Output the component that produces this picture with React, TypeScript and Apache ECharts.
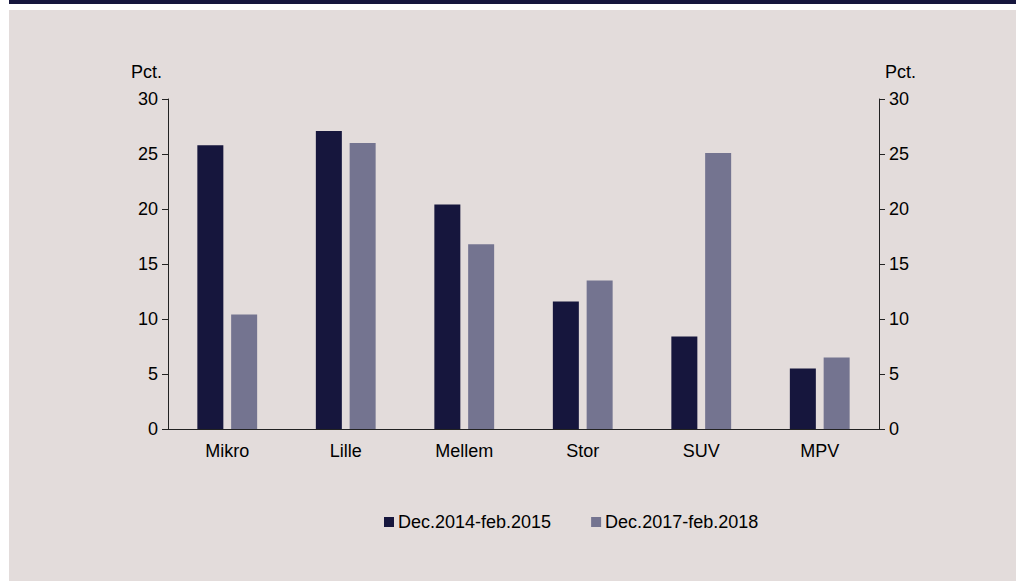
import React, { useEffect, useRef } from "react";
import * as echarts from "echarts";

const categories = ["Mikro", "Lille", "Mellem", "Stor", "SUV", "MPV"];
const series2015 = [25.8, 27.1, 20.4, 11.6, 8.4, 5.5];
const series2018 = [10.4, 26.0, 16.8, 13.5, 25.1, 6.5];
const seriesNames = ["Dec.2014-feb.2015", "Dec.2017-feb.2018"];
const yTicks = { min: 0, max: 30, interval: 5 };

const FONT = "'Liberation Sans', Arial, sans-serif";
const FS = 18;
const DARK = "#16163d";
const LIGHT = "#747490";
const BG = "#e3dcdb";

export default function App() {
  const ref = useRef<HTMLDivElement>(null);
  useEffect(() => {
    if (!ref.current) return;
    const chart = echarts.init(ref.current, null, { renderer: "svg" });
    const axisLabel = { color: "#000", fontSize: FS, fontFamily: FONT };
    const yAxisCommon = {
      type: "value",
      min: yTicks.min,
      max: yTicks.max,
      interval: yTicks.interval,
      splitLine: { show: false },
      axisLine: { show: true, lineStyle: { color: "#222", width: 1 } },
      axisTick: { show: true, length: 6, lineStyle: { color: "#222" } },
    };
    chart.setOption({
      animation: false,
      backgroundColor: "#ffffff",
      textStyle: { fontFamily: FONT },
      graphic: [
        { type: "rect", shape: { x: 9, y: 0, width: 1007, height: 4 }, style: { fill: DARK }, z: -10 },
        { type: "rect", shape: { x: 9, y: 10, width: 1007, height: 571 }, style: { fill: BG }, z: -10 },
        { type: "text", left: 131, top: 63, style: { text: "Pct.", fill: "#000", font: `${FS}px ${FONT}` } },
        { type: "text", left: 885, top: 63, style: { text: "Pct.", fill: "#000", font: `${FS}px ${FONT}` } },
      ],
      grid: { left: 168, right: 137, top: 99, bottom: 152, containLabel: false },
      legend: {
        left: 379,
        top: 508,
        itemWidth: 10,
        itemHeight: 10,
        itemGap: 40,
        icon: "rect",
        textStyle: { color: "#000", fontSize: FS, fontFamily: FONT, padding: [0, 0, 0, -1] },
        data: seriesNames,
      },
      xAxis: {
        type: "category",
        data: categories,
        axisLine: { show: true, lineStyle: { color: "#222", width: 1 } },
        axisTick: { show: false },
        axisLabel: { ...axisLabel, margin: 13 },
      },
      yAxis: [
        { ...yAxisCommon, position: "left", axisLabel: { ...axisLabel, margin: 10 } },
        { ...yAxisCommon, position: "right", axisLabel: { ...axisLabel, margin: 10 } },
      ],
      series: [
        {
          name: seriesNames[0],
          type: "bar",
          data: series2015,
          barWidth: 26,
          barGap: "30%",
          itemStyle: { color: DARK },
        },
        {
          name: seriesNames[1],
          type: "bar",
          data: series2018,
          barWidth: 26,
          barGap: "30%",
          itemStyle: { color: LIGHT },
        },
      ],
    });
    return () => chart.dispose();
  }, []);
  return (
    <div
      ref={ref}
      style={{ position: "absolute", left: 0, top: 0, width: 1016, height: 581 }}
    />
  );
}
